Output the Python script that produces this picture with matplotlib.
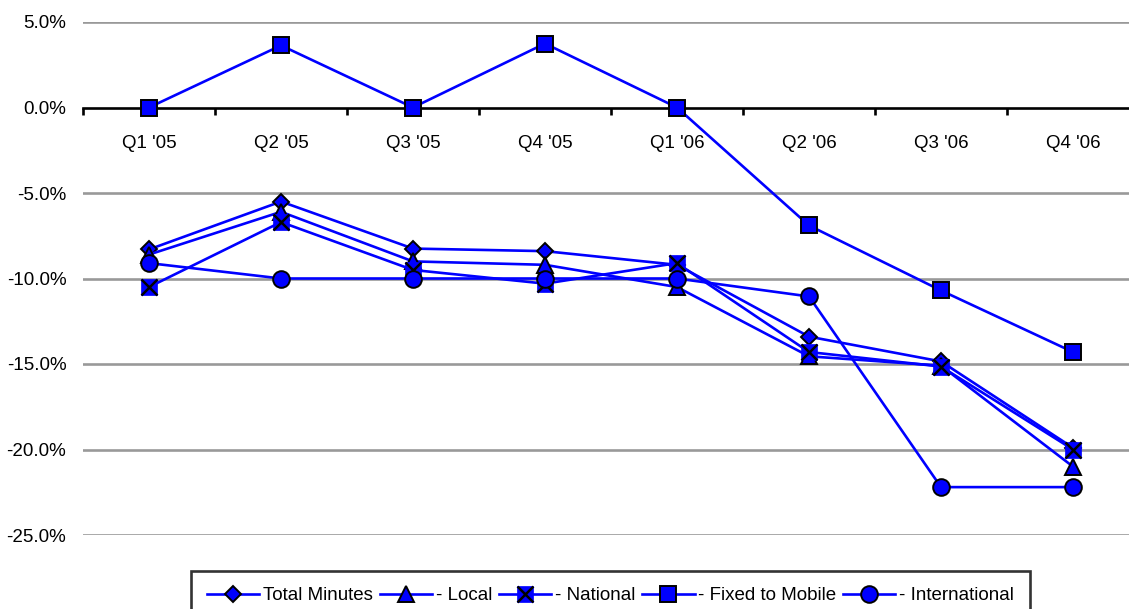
import matplotlib
matplotlib.use("Agg")
import matplotlib.pyplot as plt
from matplotlib.ticker import FixedLocator, FuncFormatter
from matplotlib.legend_handler import HandlerTuple

plt.rcParams['font.family'] = ['Liberation Sans', 'DejaVu Sans']

quarters = ["Q1 '05", "Q2 '05", "Q3 '05", "Q4 '05", "Q1 '06", "Q2 '06", "Q3 '06", "Q4 '06"]
total_minutes = [-8.3, -5.5, -8.25, -8.4, -9.2, -13.4, -14.85, -19.9]
local = [-8.6, -6.1, -9.0, -9.2, -10.5, -14.55, -15.1, -21.0]
national = [-10.5, -6.7, -9.5, -10.3, -9.1, -14.3, -15.15, -20.0]
fixed_to_mobile = [0.0, 3.63, 0.0, 3.74, 0.0, -6.9, -10.7, -14.3]
international = [-9.1, -10.0, -10.0, -10.0, -10.0, -11.05, -22.2, -22.2]
y_ticks = [5, 0, -5, -10, -15, -20, -25]

W, H = 1129, 609
fig = plt.figure(figsize=(W / 100, H / 100), dpi=100)
left, right, top, bottom = 83, 1139, 22, 535
ax = fig.add_axes([left / W, 1 - bottom / H, (right - left) / W, (bottom - top) / H])

x = list(range(len(quarters)))
blue = '#0000FF'
lw = 1.9
fs = 13.5

ax.set_xlim(-0.5, len(quarters) - 0.5)
ax.set_ylim(-25, 5)

# gridlines
for v in y_ticks:
    if v != 0:
        ax.axhline(v, color='#999999', lw=1.9, zorder=0.5)

common = dict(color=blue, lw=lw, clip_on=False, zorder=3)
h_total, = ax.plot(x, total_minutes, marker='D', ms=8, mfc=blue, mec='black', mew=1.4, **common)
h_local, = ax.plot(x, local, marker='^', ms=11, mfc=blue, mec='black', mew=1.4, **common)
h_nat_sq, = ax.plot(x, national, marker='s', ms=11, mfc=blue, mec=blue, mew=0.5, **common)
h_nat_x, = ax.plot(x, national, ls='none', marker='x', ms=11, mec='black', mew=1.8,
                   clip_on=False, zorder=3)
h_fixed, = ax.plot(x, fixed_to_mobile, marker='s', ms=11.5, mfc=blue, mec='black', mew=1.4, **common)
h_intl, = ax.plot(x, international, marker='o', ms=12, mfc=blue, mec='black', mew=1.4, **common)

# axes styling
for s in ['top', 'right', 'left']:
    ax.spines[s].set_visible(False)
ax.spines['bottom'].set_position(('data', 0))
ax.spines['bottom'].set_linewidth(1.9)
ax.spines['bottom'].set_zorder(1)

ax.xaxis.set_major_locator(FixedLocator([i - 0.5 for i in range(len(quarters) + 1)]))
ax.xaxis.set_major_formatter(FuncFormatter(lambda v, p: ''))
ax.xaxis.set_minor_locator(FixedLocator(x))
ax.set_xticklabels(quarters, minor=True)
ax.tick_params(axis='x', which='major', direction='out', length=5, width=1.9, color='black')
ax.tick_params(axis='x', which='minor', length=0, pad=20, labelsize=fs)

ax.set_yticks(y_ticks)
ax.yaxis.set_major_formatter(FuncFormatter(lambda v, p: f"{v:.1f}%"))
ax.tick_params(axis='y', length=0, pad=12, labelsize=fs)

handles = [h_total, h_local, (h_nat_sq, h_nat_x), h_fixed, h_intl]
labels = ['Total Minutes', '- Local', '- National', '- Fixed to Mobile', '- International']
leg = fig.legend(handles, labels, ncol=5, loc='upper center',
                 bbox_to_anchor=((194 + 1027) / 2 / W, 1 - 571 / H),
                 frameon=True, fancybox=False, edgecolor='black', fontsize=fs,
                 handlelength=2.8, handletextpad=0.2, columnspacing=0.35,
                 borderpad=0.85, borderaxespad=0, handler_map={tuple: HandlerTuple(ndivide=1)})
leg.get_frame().set_linewidth(1.9)

fig.savefig('out.png', dpi=100)
